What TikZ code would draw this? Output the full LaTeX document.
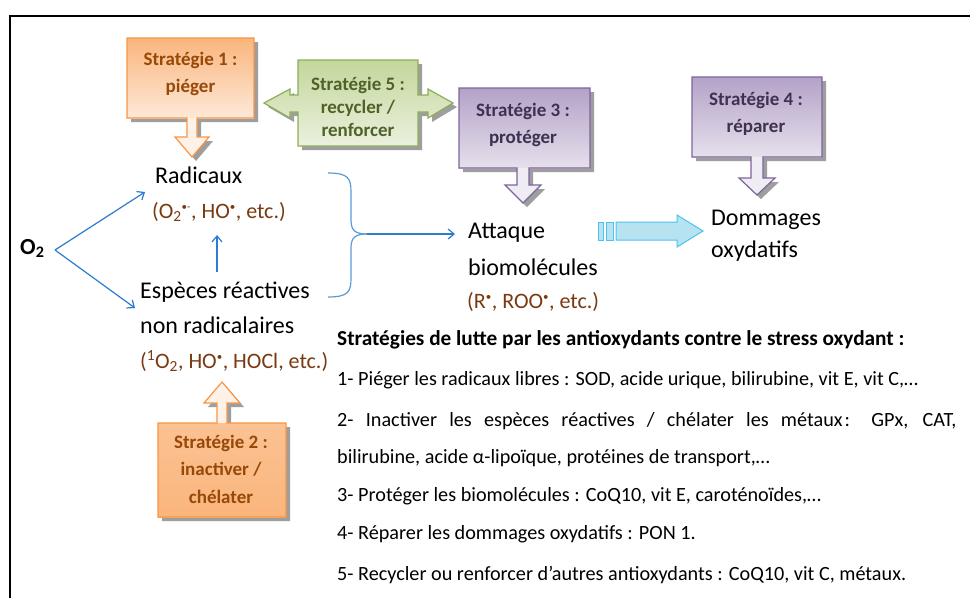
\documentclass[tikz,border=0pt]{standalone}
\usepackage{fontspec}
\setmainfont{Carlito}
\usetikzlibrary{arrows.meta,calc}
\definecolor{orTop}{HTML}{FAB57C}
\definecolor{orBot}{HTML}{FDE9D9}
\definecolor{orLine}{HTML}{F79646}
\definecolor{orText}{HTML}{984807}
\definecolor{grTop}{HTML}{C3D69B}
\definecolor{grBot}{HTML}{EBF1DE}
\definecolor{grLine}{HTML}{8EAE58}
\definecolor{grText}{HTML}{4F6228}
\definecolor{puTop}{HTML}{B3A2C7}
\definecolor{puBot}{HTML}{E6E0EC}
\definecolor{puLine}{HTML}{7E649E}
\definecolor{puText}{HTML}{3F3151}
\definecolor{arrBlue}{HTML}{2E7CCF}
\definecolor{braceBlue}{HTML}{5B9BD5}
\definecolor{cyanFill}{HTML}{B7E3F1}
\definecolor{cyanLine}{HTML}{4BC3EE}
\definecolor{parenCol}{HTML}{7A3A10}
\newcommand\rdot{\textsuperscript{\fontsize{11}{11}\selectfont •}}
\begin{document}
\begin{tikzpicture}[x=1pt,y=-1pt,
  boxtxt/.style={font=\fontsize{19}{27.5}\selectfont\bfseries, align=center, inner sep=0pt},
  lbl/.style={font=\fontsize{24}{28}\selectfont, anchor=base west, inner sep=0pt},
  partxt/.style={font=\fontsize{22}{26}\selectfont, text=parenCol, anchor=base west, inner sep=0pt},
  body/.style={font=\fontsize{20.2}{24}\selectfont, anchor=base west, inner sep=0pt},
  conn/.style={draw=arrBlue, line width=1.2pt, -{Straight Barb[length=6pt,width=10pt]}},
  shadowfill/.style={fill=black!38, draw=none, shift={(4,4)}},
  orshade/.style={top color=orTop, bottom color=orBot, draw=none},
  grshade/.style={top color=grTop, bottom color=grBot, draw=none},
  pushade/.style={top color=puTop, bottom color=puBot, draw=none},
  outline/.style={line width=1.2pt, line join=miter},
]
\useasboundingbox (0,0) rectangle (970,598);
\fill[white] (0,0) rectangle (970,598);
\draw[line width=2.5pt] (10,598) -- (10,16) -- (970,16);

% ---------- Strategie 1 (orange, down arrow) ----------
\fill[shadowfill] (127,38) -- (254,38) -- (254,118) -- (197,118) -- (197,137) -- (209,137) -- (192,157) -- (175,137) -- (187,137) -- (187,118) -- (127,118) -- cycle;
\shade[orshade] (127,38) rectangle (254,118);
\fill[orBot!60!white] (187,118) -- (197,118) -- (197,137) -- (209,137) -- (192,157) -- (175,137) -- (187,137) -- cycle;
\draw[outline, orLine] (127,38) -- (254,38) -- (254,118) -- (197,118) -- (197,137) -- (209,137) -- (192,157) -- (175,137) -- (187,137) -- (187,118) -- (127,118) -- cycle;
\node[boxtxt, text=orText] (s1) at (190.5,74) {Stratégie 1 :\\piéger};

% ---------- Strategie 2 (orange, up arrow) ----------
\fill[shadowfill] (158,423) -- (217,423) -- (217,403) -- (204,403) -- (222,382) -- (240,403) -- (227,403) -- (227,423) -- (286,423) -- (286,517) -- (158,517) -- cycle;
\fill[orBot!60!white] (217,423) -- (217,403) -- (204,403) -- (222,382) -- (240,403) -- (227,403) -- (227,423) -- cycle;
\shade[top color=orTop!75!orBot, bottom color=orTop] (158,423) rectangle (286,517);
\draw[outline, orLine] (158,423) -- (217,423) -- (217,403) -- (204,403) -- (222,382) -- (240,403) -- (227,403) -- (227,423) -- (286,423) -- (286,517) -- (158,517) -- cycle;
\node[boxtxt, text=orText] (s2) at (221,469) {Stratégie 2 :\\inactiver /\\chélater};

% ---------- Strategie 5 (green, left-right arrow) ----------
\fill[shadowfill] (298,60) -- (418,60) -- (418,95) -- (428,95) -- (428,89) -- (453,103) -- (428,118) -- (428,112) -- (418,112) -- (418,146) -- (298,146) -- (298,112) -- (290,112) -- (290,118) -- (264,103) -- (290,89) -- (290,95) -- (298,95) -- cycle;
\shade[grshade] (298,60) -- (418,60) -- (418,95) -- (428,95) -- (428,89) -- (453,103) -- (428,118) -- (428,112) -- (418,112) -- (418,146) -- (298,146) -- (298,112) -- (290,112) -- (290,118) -- (264,103) -- (290,89) -- (290,95) -- (298,95) -- cycle;
\draw[outline, grLine] (298,60) -- (418,60) -- (418,95) -- (428,95) -- (428,89) -- (453,103) -- (428,118) -- (428,112) -- (418,112) -- (418,146) -- (298,146) -- (298,112) -- (290,112) -- (290,118) -- (264,103) -- (290,89) -- (290,95) -- (298,95) -- cycle;
\node[boxtxt, text=grText, font=\fontsize{19}{23}\selectfont\bfseries] (s5) at (358,107) {Stratégie 5 :\\recycler /\\renforcer};

% ---------- Strategie 3 (purple, down arrow) ----------
\fill[shadowfill] (459,88) -- (590,88) -- (590,168) -- (529,168) -- (529,185) -- (541,185) -- (523,203) -- (505,185) -- (517,185) -- (517,168) -- (459,168) -- cycle;
\shade[pushade] (459,88) rectangle (590,168);
\fill[puBot!60!white] (517,168) -- (529,168) -- (529,185) -- (541,185) -- (523,203) -- (505,185) -- (517,185) -- cycle;
\draw[outline, puLine] (459,88) -- (590,88) -- (590,168) -- (529,168) -- (529,185) -- (541,185) -- (523,203) -- (505,185) -- (517,185) -- (517,168) -- (459,168) -- cycle;
\node[boxtxt, text=puText] (s3) at (523,125) {Stratégie 3 :\\protéger};

% ---------- Strategie 4 (purple, down arrow) ----------
\fill[shadowfill] (692,77) -- (822,77) -- (822,157) -- (763,157) -- (763,178) -- (775,178) -- (757,195) -- (739,178) -- (751,178) -- (751,157) -- (692,157) -- cycle;
\shade[pushade] (692,77) rectangle (822,157);
\fill[puBot!60!white] (751,157) -- (763,157) -- (763,178) -- (775,178) -- (757,195) -- (739,178) -- (751,178) -- cycle;
\draw[outline, puLine] (692,77) -- (822,77) -- (822,157) -- (763,157) -- (763,178) -- (775,178) -- (757,195) -- (739,178) -- (751,178) -- (751,157) -- (692,157) -- cycle;
\node[boxtxt, text=puText] (s4) at (756,114) {Stratégie 4 :\\réparer};

% ---------- Labels ----------
\node[lbl, font=\fontsize{23}{28}\selectfont\bfseries] (o2) at (20,254) {O\textsubscript{2}};
\node[lbl] (rad) at (155,183) {Radicaux};
\node[partxt] (radp) at (152,218) {(O\textsubscript{2}\textsuperscript{\fontsize{11}{11}\selectfont •-}, HO\rdot, etc.)};
\node[lbl] (esp1) at (140,298) {Espèces réactives};
\node[lbl] (esp2) at (140,333) {non radicalaires};
\node[partxt] (espp) at (140,368) {(\textsuperscript{1}O\textsubscript{2}, HO\rdot, HOCl, etc.)};
\node[lbl] (att1) at (468,238) {Attaque};
\node[lbl] (att2) at (468,275) {biomolécules};
\node[partxt] (attp) at (467,308) {(R\rdot, ROO\rdot, etc.)};
\node[lbl] (dom1) at (711,225) {Dommages};
\node[lbl] (dom2) at (711,257) {oxydatifs};

% ---------- Connectors ----------
\coordinate (o2out) at (55,250);
\coordinate (radin) at (145,192);
\coordinate (espin) at (135,308);
\coordinate (espup) at (217,272);
\coordinate (radlow) at (217,235);
\coordinate (bracetip) at (367,234);
\coordinate (attin) at (455,234);
\draw[conn] (o2out) -- (radin);
\draw[conn] (o2out) -- (espin);
\draw[conn] (espup) -- (radlow);
\draw[braceBlue, line width=1.2pt] (328,173) .. controls (348,173) and (351,178) .. (351,192) -- (351,220) .. controls (351,231) and (356,234) .. (bracetip);
\draw[braceBlue, line width=1.2pt] (328,297) .. controls (348,297) and (351,292) .. (351,278) -- (351,248) .. controls (351,237) and (356,234) .. (bracetip);
\draw[conn] (bracetip) -- (attin);

% ---------- Striped block arrow ----------
\filldraw[fill=cyanFill, draw=cyanLine, line width=1pt] (598,222) rectangle (603,240);
\filldraw[fill=cyanFill, draw=cyanLine, line width=1pt] (606,222) rectangle (613,240);
\filldraw[fill=cyanFill, draw=cyanLine, line width=1pt, line join=miter] (616,222) -- (677,222) -- (677,215) -- (703,231) -- (677,247) -- (677,240) -- (616,240) -- cycle;

% ---------- Text block ----------
\node[body, font=\fontsize{21.3}{24}\selectfont\bfseries] (hd) at (337,345) {Stratégies de lutte par les antioxydants contre le stress oxydant :};
\node[body] (t1) at (337,385) {1- Piéger les radicaux libres : SOD, acide urique, bilirubine, vit E, vit C,…};
\node[body] (t2) at (337,426) {\makebox[619pt][s]{2- Inactiver les espèces réactives / chélater les métaux\kern2pt: GPx, CAT,}};
\node[body] (t2b) at (337,463) {bilirubine, acide α-lipoïque, protéines de transport,…};
\node[body] (t3) at (337,501) {3- Protéger les biomolécules : CoQ10, vit E, caroténoïdes,…};
\node[body] (t4) at (337,539) {4- Réparer les dommages oxydatifs : PON 1.};
\node[body] (t5) at (337,580) {5- Recycler ou renforcer d’autres antioxydants : CoQ10, vit C, métaux.};
\end{tikzpicture}
\end{document}
